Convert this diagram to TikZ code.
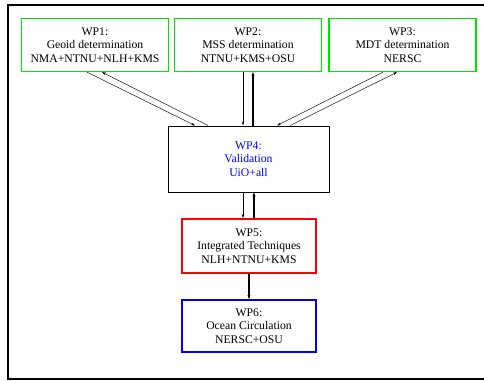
\documentclass[tikz,border=0pt]{standalone}
\usepackage{fontspec}
\setmainfont{Liberation Serif}
\usetikzlibrary{arrows.meta}
\definecolor{wpgreen}{RGB}{0,230,0}
\begin{document}
\begin{tikzpicture}[x=1pt,y=-1pt,
  wpbox/.style={draw, rectangle, align=center, inner sep=0pt,
    font=\fontsize{11.7}{13.6}\selectfont},
  greenbox/.style={wpbox, draw=wpgreen, line width=1.3pt,
    minimum width=147pt, minimum height=53pt},
  thinarrow/.style={line width=0.45pt, -{Stealth[length=4pt,width=2.6pt]}},
  thickarrow/.style={line width=1.4pt, -{Stealth[length=4pt,width=3pt]}}]
\clip (0,0) rectangle (484,380);
% outer frame
\draw[line width=2pt] (7.5,380) -- (7.5,4.5) -- (490,4.5);
\draw[line width=1.6pt] (7.5,379) -- (490,379);
% nodes
\node[greenbox] (wp1) at (95,45) {WP1:\\Geoid determination\\NMA+NTNU+NLH+KMS};
\node[greenbox] (wp2) at (248,45) {WP2:\\MSS determination\\NTNU+KMS+OSU};
\node[greenbox] (wp3) at (402.5,45) {WP3:\\MDT determination\\NERSC};
\node[wpbox, line width=1pt, text=blue, minimum width=161pt, minimum height=66pt]
  (wp4) at (248.5,159) {WP4:\\Validation\\UiO+all};
\node[wpbox, draw=red, line width=1.8pt, minimum width=134pt, minimum height=54pt]
  (wp5) at (249,246) {WP5:\\Integrated Techniques\\NLH+NTNU+KMS};
\node[wpbox, draw=blue, line width=1.8pt, minimum width=134pt, minimum height=52pt]
  (wp6) at (249,326) {WP6:\\Ocean Circulation\\NERSC+OSU};
% connectors WP1 <-> WP4
\draw[thinarrow] ([xshift=-8pt]wp1.south) -- ([xshift=-53.5pt]wp4.north);
\draw[thinarrow] ([xshift=-40.5pt]wp4.north) -- ([xshift=7pt]wp1.south);
% connectors WP2 <-> WP4
\draw[thinarrow] ([xshift=-5pt]wp2.south) -- ([xshift=-5.5pt]wp4.north);
\draw[thickarrow] ([xshift=4.5pt]wp4.north) -- ([xshift=5pt]wp2.south);
% connectors WP3 <-> WP4
\draw[thinarrow] ([xshift=-19.5pt]wp3.south) -- ([xshift=28.5pt]wp4.north);
\draw[thinarrow] ([xshift=41.5pt]wp4.north) -- ([xshift=-5.5pt]wp3.south);
% WP4 <-> WP5
\draw[thinarrow] ([xshift=-5.5pt]wp4.south) -- ([xshift=-6pt]wp5.north);
\draw[thickarrow] ([xshift=5pt]wp5.north) -- ([xshift=5.5pt]wp4.south);
% WP5 -> WP6
\draw[thickarrow] (wp5.south) -- (wp6.north);
\end{tikzpicture}
\end{document}
